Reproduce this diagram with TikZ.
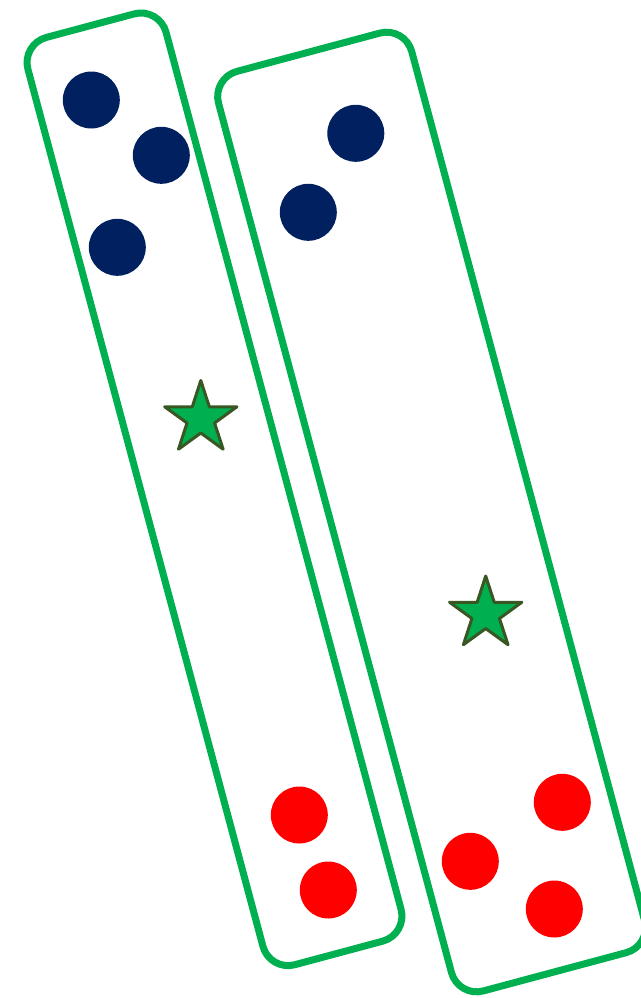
\documentclass[tikz,border=0pt]{standalone}
\usepackage{tikz}
\usetikzlibrary{shapes.geometric}

\definecolor{groupgreen}{HTML}{00B050}
\definecolor{navy}{HTML}{002060}
\definecolor{starrim}{HTML}{385723}

\begin{document}
\begin{tikzpicture}[
  x=0.5pt, y=-0.5pt,
  group/.style    = {draw=groupgreen, line width=3.5pt, rectangle, rotate=15,
                     rounded corners=13pt, inner sep=0pt},
  navydot/.style  = {circle, fill=navy, minimum size=28.5pt, inner sep=0pt},
  reddot/.style   = {circle, fill=red, minimum size=28.5pt, inner sep=0pt},
  centroid/.style = {star, star points=5, star point ratio=2.618,
                     minimum size=38pt, inner sep=0pt, fill=groupgreen,
                     draw=starrim, line width=1.5pt, line join=round},
]
  \useasboundingbox (0,0) rectangle (641,998);

  % ── the two groups ────────────────────────────────────────────────────
  \node[group, minimum width=71.5pt, minimum height=480pt] (gl) at (214.5,489.3) {};
  \node[group, minimum width=100pt,  minimum height=476pt] (gr) at (431.6,512)   {};

  % ── points of the left group ──────────────────────────────────────────
  \node[navydot] (l1) at (91.3,100)  {};
  \node[navydot] (l2) at (161.3,155.3) {};
  \node[navydot] (l3) at (117.3,247.3) {};
  \node[reddot]  (l4) at (299.3,815)  {};
  \node[reddot]  (l5) at (328.3,890)  {};
  \node[centroid] (cl) at (200.8,418.5) {};

  % ── points of the right group ─────────────────────────────────────────
  \node[navydot] (r1) at (355.8,133.3) {};
  \node[navydot] (r2) at (308.3,212.3) {};
  \node[reddot]  (r3) at (562.3,802.3) {};
  \node[reddot]  (r4) at (470.3,861.3) {};
  \node[reddot]  (r5) at (554.3,909)   {};
  \node[centroid] (cr) at (485.7,614)  {};

\end{tikzpicture}
\end{document}
